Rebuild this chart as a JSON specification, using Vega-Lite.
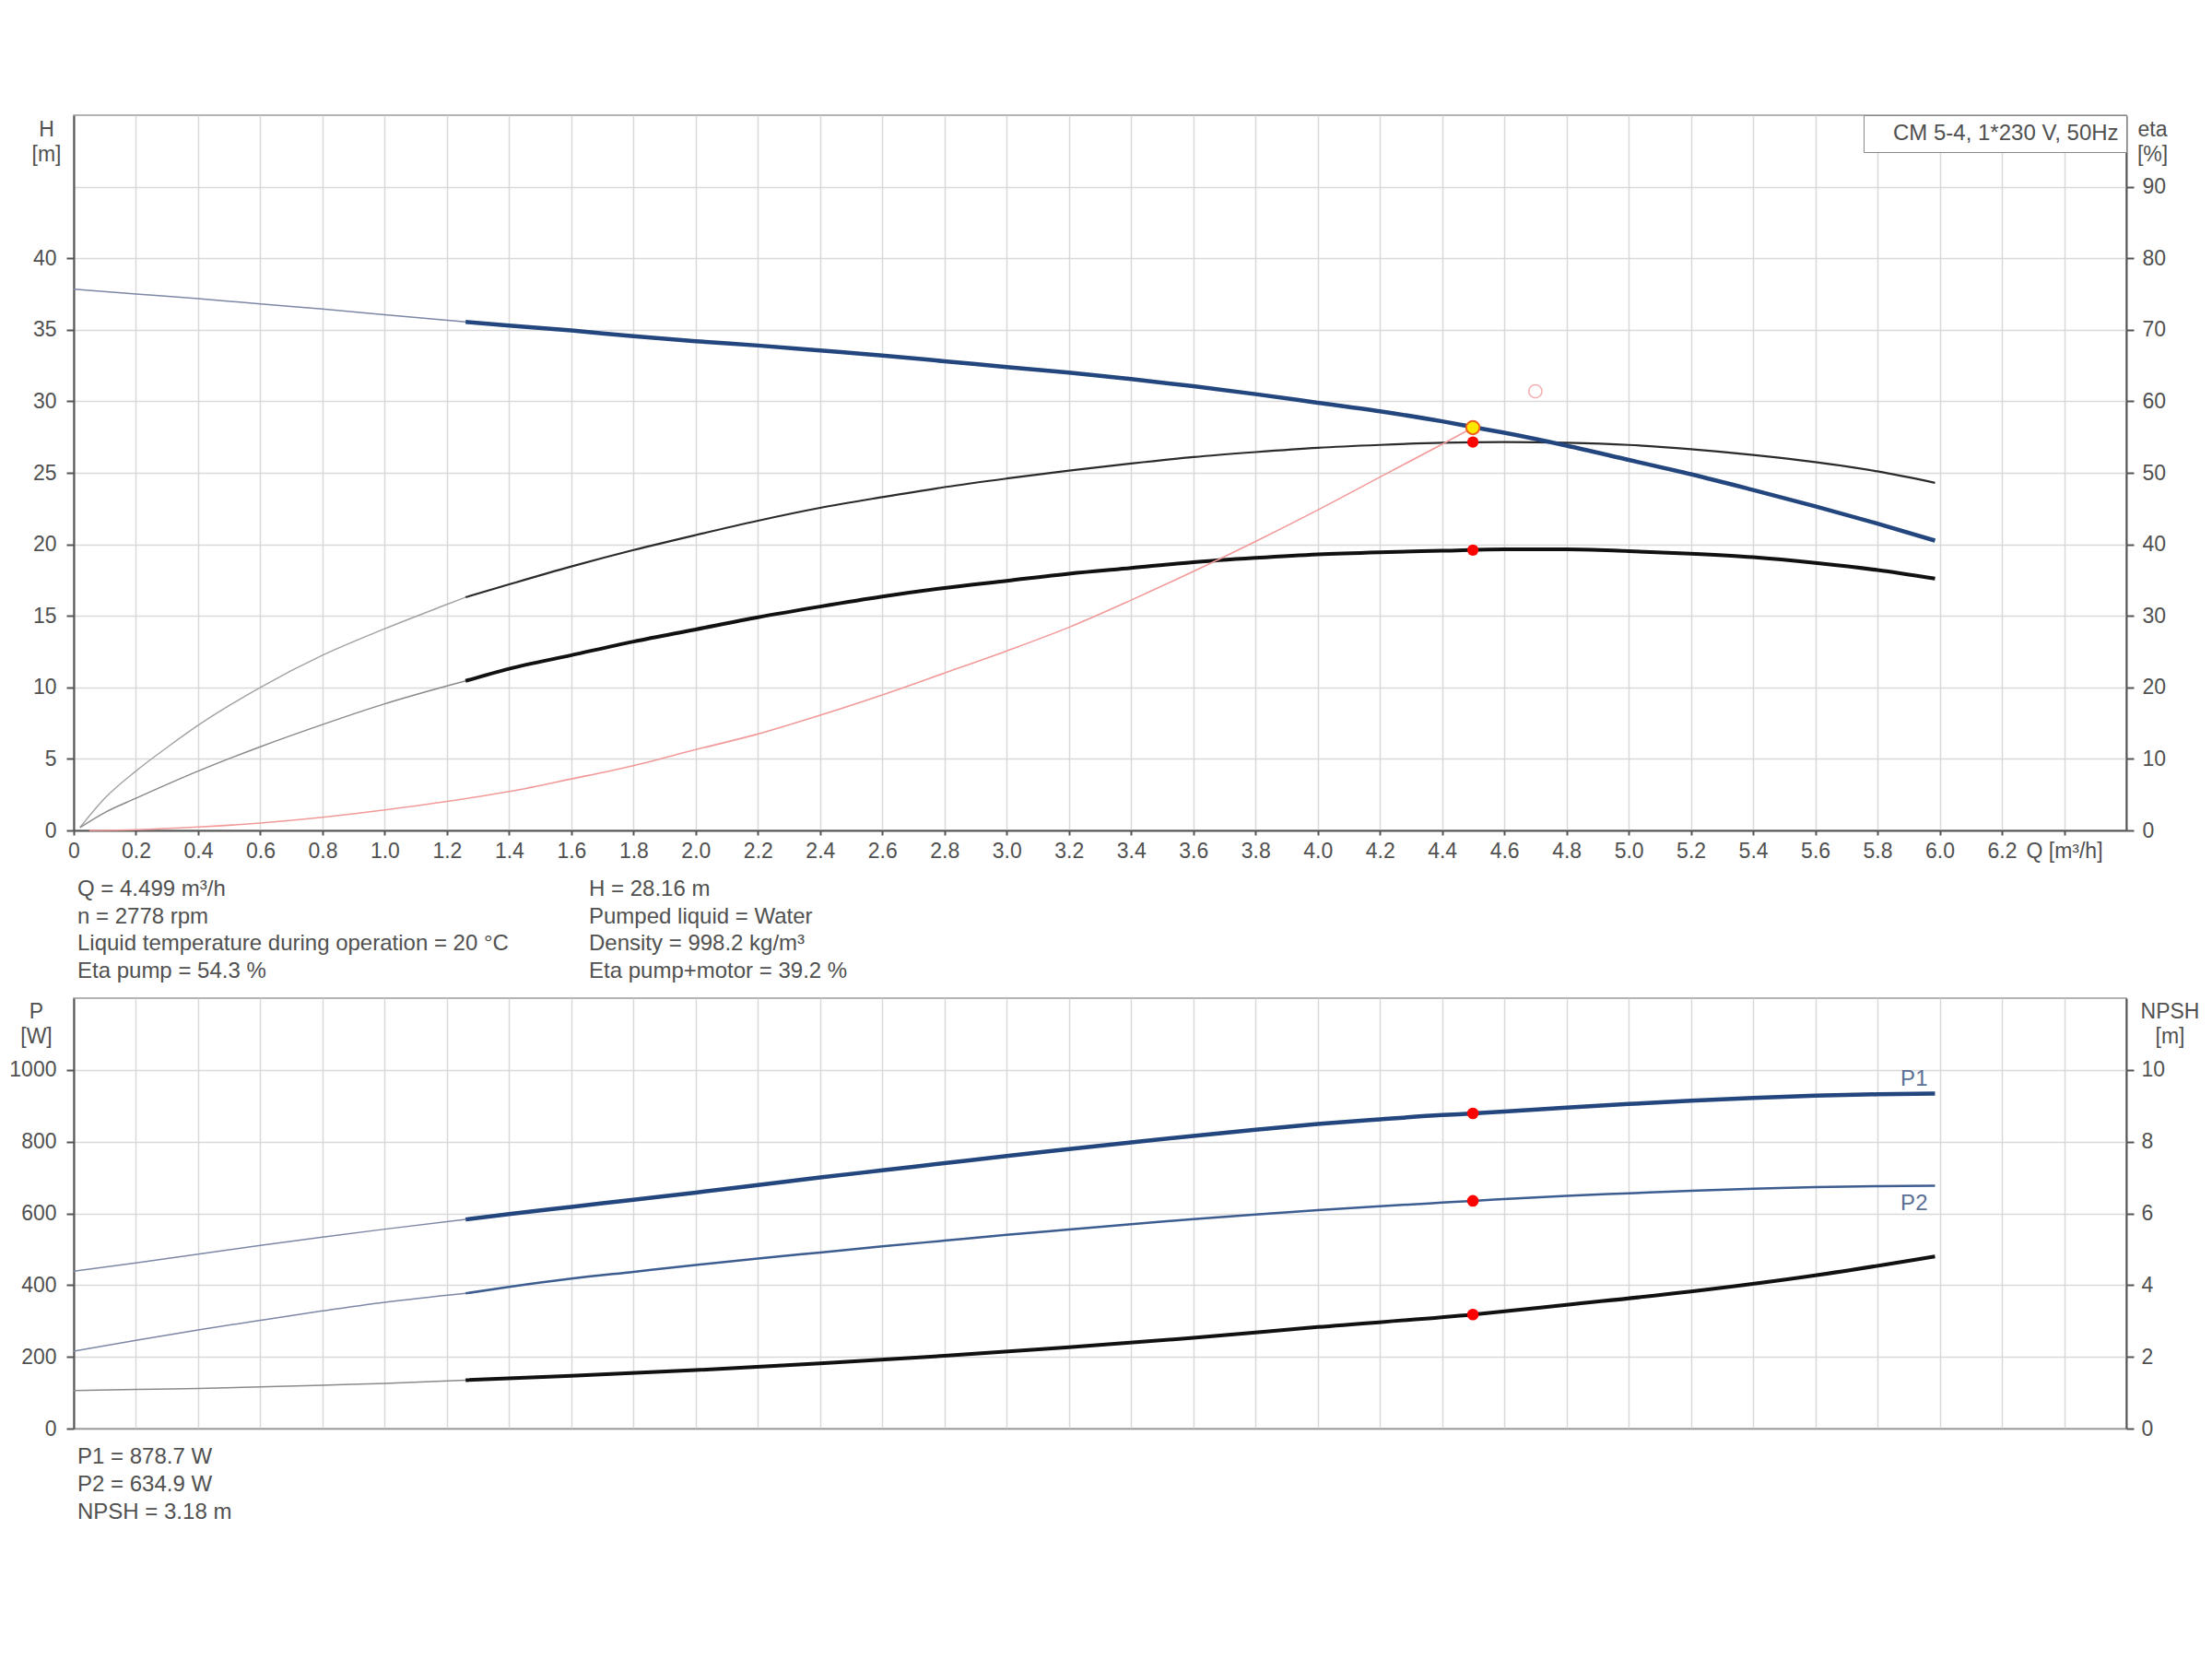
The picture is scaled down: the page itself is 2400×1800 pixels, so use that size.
{
  "$schema": "https://vega.github.io/schema/vega-lite/v6.json",
  "background": "white",
  "padding": {"left": 9, "top": 124, "right": 5, "bottom": 5},
  "config": {
    "font": "Liberation Sans",
    "view": {"stroke": "#9a9a9a", "strokeWidth": 1.5},
    "axis": {
      "labelFont": "Liberation Sans", "labelFontSize": 23, "labelColor": "#505050",
      "labelFlush": false, "labelOverlap": false,
      "domainColor": "#555555", "domainWidth": 2,
      "tickColor": "#555555", "tickWidth": 2,
      "gridColor": "#d9d9d9", "gridWidth": 1.5,
      "titleFont": "Liberation Sans", "titleFontSize": 23, "titleFontWeight": "normal", "titleColor": "#505050"
    }
  },
  "datasets": {
    "eta": [
      {"seg": "etaP_low", "Q": 0.02, "eta": 0.4}, {"seg": "etaP_low", "Q": 0.1, "eta": 4.5}, {"seg": "etaP_low", "Q": 0.2, "eta": 8.3}, {"seg": "etaP_low", "Q": 0.3, "eta": 11.6}, {"seg": "etaP_low", "Q": 0.4, "eta": 14.7}, {"seg": "etaP_low", "Q": 0.6, "eta": 20.0}, {"seg": "etaP_low", "Q": 0.8, "eta": 24.5}, {"seg": "etaP_low", "Q": 1.0, "eta": 28.2}, {"seg": "etaP_low", "Q": 1.2, "eta": 31.6}, {"seg": "etaP_low", "Q": 1.26, "eta": 32.6},
      {"seg": "etaP", "Q": 1.26, "eta": 32.6}, {"seg": "etaP", "Q": 1.4, "eta": 34.4}, {"seg": "etaP", "Q": 1.6, "eta": 36.9}, {"seg": "etaP", "Q": 1.8, "eta": 39.2}, {"seg": "etaP", "Q": 2.0, "eta": 41.3}, {"seg": "etaP", "Q": 2.2, "eta": 43.3}, {"seg": "etaP", "Q": 2.4, "eta": 45.1}, {"seg": "etaP", "Q": 2.6, "eta": 46.6}, {"seg": "etaP", "Q": 2.8, "eta": 48.0}, {"seg": "etaP", "Q": 3.0, "eta": 49.2}, {"seg": "etaP", "Q": 3.2, "eta": 50.3}, {"seg": "etaP", "Q": 3.4, "eta": 51.3}, {"seg": "etaP", "Q": 3.6, "eta": 52.2}, {"seg": "etaP", "Q": 3.8, "eta": 52.9}, {"seg": "etaP", "Q": 4.0, "eta": 53.5}, {"seg": "etaP", "Q": 4.2, "eta": 53.9}, {"seg": "etaP", "Q": 4.4, "eta": 54.2}, {"seg": "etaP", "Q": 4.6, "eta": 54.3}, {"seg": "etaP", "Q": 4.8, "eta": 54.2}, {"seg": "etaP", "Q": 5.0, "eta": 53.9}, {"seg": "etaP", "Q": 5.2, "eta": 53.3}, {"seg": "etaP", "Q": 5.4, "eta": 52.5}, {"seg": "etaP", "Q": 5.6, "eta": 51.5}, {"seg": "etaP", "Q": 5.8, "eta": 50.2}, {"seg": "etaP", "Q": 5.985, "eta": 48.6},
      {"seg": "etaPM_low", "Q": 0.02, "eta": 0.4}, {"seg": "etaPM_low", "Q": 0.1, "eta": 2.5}, {"seg": "etaPM_low", "Q": 0.2, "eta": 4.5}, {"seg": "etaPM_low", "Q": 0.4, "eta": 8.3}, {"seg": "etaPM_low", "Q": 0.6, "eta": 11.7}, {"seg": "etaPM_low", "Q": 0.8, "eta": 14.8}, {"seg": "etaPM_low", "Q": 1.0, "eta": 17.7}, {"seg": "etaPM_low", "Q": 1.2, "eta": 20.2}, {"seg": "etaPM_low", "Q": 1.26, "eta": 20.9},
      {"seg": "etaPM", "Q": 1.26, "eta": 20.9}, {"seg": "etaPM", "Q": 1.4, "eta": 22.6}, {"seg": "etaPM", "Q": 1.6, "eta": 24.5}, {"seg": "etaPM", "Q": 1.8, "eta": 26.4}, {"seg": "etaPM", "Q": 2.0, "eta": 28.1}, {"seg": "etaPM", "Q": 2.2, "eta": 29.8}, {"seg": "etaPM", "Q": 2.4, "eta": 31.3}, {"seg": "etaPM", "Q": 2.6, "eta": 32.7}, {"seg": "etaPM", "Q": 2.8, "eta": 33.9}, {"seg": "etaPM", "Q": 3.0, "eta": 34.9}, {"seg": "etaPM", "Q": 3.2, "eta": 35.9}, {"seg": "etaPM", "Q": 3.4, "eta": 36.7}, {"seg": "etaPM", "Q": 3.6, "eta": 37.5}, {"seg": "etaPM", "Q": 3.8, "eta": 38.1}, {"seg": "etaPM", "Q": 4.0, "eta": 38.6}, {"seg": "etaPM", "Q": 4.2, "eta": 38.9}, {"seg": "etaPM", "Q": 4.4, "eta": 39.1}, {"seg": "etaPM", "Q": 4.6, "eta": 39.3}, {"seg": "etaPM", "Q": 4.8, "eta": 39.3}, {"seg": "etaPM", "Q": 5.0, "eta": 39.05}, {"seg": "etaPM", "Q": 5.2, "eta": 38.7}, {"seg": "etaPM", "Q": 5.4, "eta": 38.2}, {"seg": "etaPM", "Q": 5.6, "eta": 37.4}, {"seg": "etaPM", "Q": 5.8, "eta": 36.4}, {"seg": "etaPM", "Q": 5.985, "eta": 35.2}
    ],
    "etaPts": [{"Q": 4.499, "eta": 54.3}, {"Q": 4.499, "eta": 39.2}],
    "head": [
      {"seg": "system", "Q": 0.05, "H": 0}, {"seg": "system", "Q": 0.2, "H": 0.05}, {"seg": "system", "Q": 0.4, "H": 0.24}, {"seg": "system", "Q": 0.6, "H": 0.52}, {"seg": "system", "Q": 0.8, "H": 0.92}, {"seg": "system", "Q": 1.0, "H": 1.43}, {"seg": "system", "Q": 1.2, "H": 2.03}, {"seg": "system", "Q": 1.4, "H": 2.72}, {"seg": "system", "Q": 1.6, "H": 3.6}, {"seg": "system", "Q": 1.8, "H": 4.53}, {"seg": "system", "Q": 2.0, "H": 5.65}, {"seg": "system", "Q": 2.2, "H": 6.74}, {"seg": "system", "Q": 2.4, "H": 8.05}, {"seg": "system", "Q": 2.6, "H": 9.47}, {"seg": "system", "Q": 2.8, "H": 11.0}, {"seg": "system", "Q": 3.0, "H": 12.55}, {"seg": "system", "Q": 3.2, "H": 14.2}, {"seg": "system", "Q": 3.4, "H": 16.1}, {"seg": "system", "Q": 3.6, "H": 18.1}, {"seg": "system", "Q": 3.8, "H": 20.2}, {"seg": "system", "Q": 4.0, "H": 22.4}, {"seg": "system", "Q": 4.2, "H": 24.7}, {"seg": "system", "Q": 4.4, "H": 27.0}, {"seg": "system", "Q": 4.499, "H": 28.16},
      {"seg": "H_low", "Q": 0, "H": 37.84}, {"seg": "H_low", "Q": 0.2, "H": 37.5}, {"seg": "H_low", "Q": 0.4, "H": 37.18}, {"seg": "H_low", "Q": 0.6, "H": 36.8}, {"seg": "H_low", "Q": 0.8, "H": 36.45}, {"seg": "H_low", "Q": 1.0, "H": 36.05}, {"seg": "H_low", "Q": 1.26, "H": 35.55},
      {"seg": "H", "Q": 1.26, "H": 35.55}, {"seg": "H", "Q": 1.4, "H": 35.3}, {"seg": "H", "Q": 1.6, "H": 34.95}, {"seg": "H", "Q": 1.8, "H": 34.55}, {"seg": "H", "Q": 2.0, "H": 34.2}, {"seg": "H", "Q": 2.2, "H": 33.9}, {"seg": "H", "Q": 2.4, "H": 33.55}, {"seg": "H", "Q": 2.6, "H": 33.2}, {"seg": "H", "Q": 2.8, "H": 32.8}, {"seg": "H", "Q": 3.0, "H": 32.4}, {"seg": "H", "Q": 3.2, "H": 32.0}, {"seg": "H", "Q": 3.4, "H": 31.55}, {"seg": "H", "Q": 3.6, "H": 31.05}, {"seg": "H", "Q": 3.8, "H": 30.5}, {"seg": "H", "Q": 4.0, "H": 29.9}, {"seg": "H", "Q": 4.2, "H": 29.3}, {"seg": "H", "Q": 4.4, "H": 28.6}, {"seg": "H", "Q": 4.5, "H": 28.2}, {"seg": "H", "Q": 4.6, "H": 27.8}, {"seg": "H", "Q": 4.8, "H": 26.9}, {"seg": "H", "Q": 5.0, "H": 25.9}, {"seg": "H", "Q": 5.2, "H": 24.9}, {"seg": "H", "Q": 5.4, "H": 23.8}, {"seg": "H", "Q": 5.6, "H": 22.66}, {"seg": "H", "Q": 5.8, "H": 21.45}, {"seg": "H", "Q": 5.985, "H": 20.26}
    ],
    "duty": [{"Q": 4.499, "H": 28.16, "pump": "CM 5-4, 1*230 V, 50Hz"}],
    "hollow": [{"Q": 4.7, "H": 30.7}],
    "power": [
      {"seg": "P1_low", "Q": 0, "P": 439}, {"seg": "P1_low", "Q": 0.2, "P": 462}, {"seg": "P1_low", "Q": 0.4, "P": 486}, {"seg": "P1_low", "Q": 0.6, "P": 511}, {"seg": "P1_low", "Q": 0.8, "P": 534}, {"seg": "P1_low", "Q": 1.0, "P": 556}, {"seg": "P1_low", "Q": 1.26, "P": 583},
      {"seg": "P1", "Q": 1.26, "P": 583}, {"seg": "P1", "Q": 1.4, "P": 598}, {"seg": "P1", "Q": 1.6, "P": 618}, {"seg": "P1", "Q": 1.8, "P": 638}, {"seg": "P1", "Q": 2.0, "P": 658}, {"seg": "P1", "Q": 2.2, "P": 679}, {"seg": "P1", "Q": 2.4, "P": 700}, {"seg": "P1", "Q": 2.6, "P": 720}, {"seg": "P1", "Q": 2.8, "P": 740}, {"seg": "P1", "Q": 3.0, "P": 760}, {"seg": "P1", "Q": 3.2, "P": 779}, {"seg": "P1", "Q": 3.4, "P": 798}, {"seg": "P1", "Q": 3.6, "P": 816}, {"seg": "P1", "Q": 3.8, "P": 833}, {"seg": "P1", "Q": 4.0, "P": 849}, {"seg": "P1", "Q": 4.2, "P": 862}, {"seg": "P1", "Q": 4.4, "P": 874}, {"seg": "P1", "Q": 4.5, "P": 878.7}, {"seg": "P1", "Q": 4.6, "P": 884}, {"seg": "P1", "Q": 4.8, "P": 895}, {"seg": "P1", "Q": 5.0, "P": 905}, {"seg": "P1", "Q": 5.2, "P": 914}, {"seg": "P1", "Q": 5.4, "P": 922}, {"seg": "P1", "Q": 5.6, "P": 928}, {"seg": "P1", "Q": 5.8, "P": 932}, {"seg": "P1", "Q": 5.985, "P": 934},
      {"seg": "P2_low", "Q": 0, "P": 216}, {"seg": "P2_low", "Q": 0.2, "P": 246}, {"seg": "P2_low", "Q": 0.4, "P": 275}, {"seg": "P2_low", "Q": 0.6, "P": 302}, {"seg": "P2_low", "Q": 0.8, "P": 328}, {"seg": "P2_low", "Q": 1.0, "P": 352}, {"seg": "P2_low", "Q": 1.26, "P": 377},
      {"seg": "P2", "Q": 1.26, "P": 377}, {"seg": "P2", "Q": 1.4, "P": 395}, {"seg": "P2", "Q": 1.6, "P": 418}, {"seg": "P2", "Q": 1.8, "P": 437}, {"seg": "P2", "Q": 2.0, "P": 456}, {"seg": "P2", "Q": 2.2, "P": 474}, {"seg": "P2", "Q": 2.4, "P": 491}, {"seg": "P2", "Q": 2.6, "P": 508}, {"seg": "P2", "Q": 2.8, "P": 524}, {"seg": "P2", "Q": 3.0, "P": 540}, {"seg": "P2", "Q": 3.2, "P": 555}, {"seg": "P2", "Q": 3.4, "P": 570}, {"seg": "P2", "Q": 3.6, "P": 584}, {"seg": "P2", "Q": 3.8, "P": 597}, {"seg": "P2", "Q": 4.0, "P": 609}, {"seg": "P2", "Q": 4.2, "P": 620}, {"seg": "P2", "Q": 4.4, "P": 630}, {"seg": "P2", "Q": 4.5, "P": 634.9}, {"seg": "P2", "Q": 4.8, "P": 649}, {"seg": "P2", "Q": 5.0, "P": 656}, {"seg": "P2", "Q": 5.2, "P": 663}, {"seg": "P2", "Q": 5.4, "P": 669}, {"seg": "P2", "Q": 5.6, "P": 673}, {"seg": "P2", "Q": 5.8, "P": 676}, {"seg": "P2", "Q": 5.985, "P": 677}
    ],
    "pPts": [{"Q": 4.499, "P": 878.7}, {"Q": 4.499, "P": 634.9}],
    "pLabels": [{"Q": 5.985, "P": 934, "label": "P1"}, {"Q": 5.985, "P": 677, "label": "P2"}],
    "npsh": [
      {"seg": "N_low", "Q": 0, "NPSH": 1.06}, {"seg": "N_low", "Q": 0.2, "NPSH": 1.09}, {"seg": "N_low", "Q": 0.4, "NPSH": 1.12}, {"seg": "N_low", "Q": 0.6, "NPSH": 1.16}, {"seg": "N_low", "Q": 0.8, "NPSH": 1.21}, {"seg": "N_low", "Q": 1.0, "NPSH": 1.26}, {"seg": "N_low", "Q": 1.26, "NPSH": 1.35},
      {"seg": "N", "Q": 1.26, "NPSH": 1.35}, {"seg": "N", "Q": 1.6, "NPSH": 1.47}, {"seg": "N", "Q": 2.0, "NPSH": 1.63}, {"seg": "N", "Q": 2.4, "NPSH": 1.82}, {"seg": "N", "Q": 2.8, "NPSH": 2.03}, {"seg": "N", "Q": 3.2, "NPSH": 2.27}, {"seg": "N", "Q": 3.6, "NPSH": 2.53}, {"seg": "N", "Q": 4.0, "NPSH": 2.83}, {"seg": "N", "Q": 4.5, "NPSH": 3.18}, {"seg": "N", "Q": 4.8, "NPSH": 3.45}, {"seg": "N", "Q": 5.2, "NPSH": 3.82}, {"seg": "N", "Q": 5.6, "NPSH": 4.27}, {"seg": "N", "Q": 5.985, "NPSH": 4.8}
    ],
    "nPts": [{"Q": 4.499, "NPSH": 3.18}],
    "info1": [
      {"col": 0, "line": 1, "text": "Q = 4.499 m³/h"},
      {"col": 0, "line": 2, "text": "n = 2778 rpm"},
      {"col": 0, "line": 3, "text": "Liquid temperature during operation = 20 °C"},
      {"col": 0, "line": 4, "text": "Eta pump = 54.3 %"},
      {"col": 1, "line": 1, "text": "H = 28.16 m"},
      {"col": 1, "line": 2, "text": "Pumped liquid = Water"},
      {"col": 1, "line": 3, "text": "Density = 998.2 kg/m³"},
      {"col": 1, "line": 4, "text": "Eta pump+motor = 39.2 %"}
    ],
    "info2": [
      {"col": 0, "line": 1, "text": "P1 = 878.7 W"},
      {"col": 0, "line": 2, "text": "P2 = 634.9 W"},
      {"col": 0, "line": 3, "text": "NPSH = 3.18 m"}
    ]
  },
  "spacing": 0,
  "bounds": "flush",
  "vconcat": [
    {
      "width": 2227,
      "height": 776,
      "resolve": {"scale": {"y": "independent"}},
      "layer": [
        {
          "data": {"name": "eta"},
          "transform": [{"filter": "datum.seg == 'etaP_low'"}],
          "mark": {"type": "line", "interpolate": "monotone", "color": "#a3a3a3", "strokeWidth": 1.5},
          "encoding": {
            "x": {"field": "Q", "type": "quantitative", "scale": {"domain": [0, 6.6], "nice": false, "zero": false},
              "axis": {"values": [0, 0.2, 0.4, 0.6, 0.8, 1, 1.2, 1.4, 1.6, 1.8, 2, 2.2, 2.4, 2.6, 2.8, 3, 3.2, 3.4, 3.6, 3.8, 4, 4.2, 4.4, 4.6, 4.8, 5, 5.2, 5.4, 5.6, 5.8, 6, 6.2, 6.4],
                "grid": true, "ticks": true, "tickSize": 5, "labels": true, "labelPadding": 6, "title": null,
                "labelExpr": "datum.value == 0 ? '0' : (datum.value == 6.4 ? 'Q [m³/h]' : format(datum.value, '.1f'))"}},
            "y": {"field": "eta", "type": "quantitative", "scale": {"domain": [0, 100], "nice": false},
              "axis": {"orient": "right", "values": [0, 10, 20, 30, 40, 50, 60, 70, 80, 90], "grid": true, "tickSize": 8, "labelPadding": 9,
                "title": ["eta", "[%]"], "titleAngle": 0, "titleAlign": "center", "titleBaseline": "alphabetic", "titleX": 28, "titleY": 22, "titleLineHeight": 27}}
          }
        },
        {
          "data": {"name": "eta"},
          "transform": [{"filter": "datum.seg == 'etaPM_low'"}],
          "mark": {"type": "line", "interpolate": "monotone", "color": "#8a8a8a", "strokeWidth": 1.5},
          "encoding": {
            "x": {"field": "Q", "type": "quantitative", "scale": {"domain": [0, 6.6], "nice": false, "zero": false}},
            "y": {"field": "eta", "type": "quantitative", "scale": {"domain": [0, 100], "nice": false}, "axis": null}
          }
        },
        {
          "data": {"name": "eta"},
          "transform": [{"filter": "datum.seg == 'etaP'"}],
          "mark": {"type": "line", "interpolate": "monotone", "color": "#2b2b2b", "strokeWidth": 2.2},
          "encoding": {
            "x": {"field": "Q", "type": "quantitative", "scale": {"domain": [0, 6.6], "nice": false, "zero": false}},
            "y": {"field": "eta", "type": "quantitative", "scale": {"domain": [0, 100], "nice": false}, "axis": null}
          }
        },
        {
          "data": {"name": "eta"},
          "transform": [{"filter": "datum.seg == 'etaPM'"}],
          "mark": {"type": "line", "interpolate": "monotone", "color": "#111111", "strokeWidth": 4},
          "encoding": {
            "x": {"field": "Q", "type": "quantitative", "scale": {"domain": [0, 6.6], "nice": false, "zero": false}},
            "y": {"field": "eta", "type": "quantitative", "scale": {"domain": [0, 100], "nice": false}, "axis": null}
          }
        },
        {
          "data": {"name": "head"},
          "transform": [{"filter": "datum.seg == 'system'"}],
          "mark": {"type": "line", "interpolate": "monotone", "color": "#f29a9a", "strokeWidth": 1.6},
          "encoding": {
            "x": {"field": "Q", "type": "quantitative", "scale": {"domain": [0, 6.6], "nice": false, "zero": false}},
            "y": {"field": "H", "type": "quantitative", "scale": {"domain": [0, 50], "nice": false},
              "axis": {"orient": "left", "values": [0, 5, 10, 15, 20, 25, 30, 35, 40], "grid": false, "tickSize": 8, "labelPadding": 11,
                "title": ["H", "[m]"], "titleAngle": 0, "titleAlign": "center", "titleBaseline": "alphabetic", "titleX": -30, "titleY": 22, "titleLineHeight": 27}}
          }
        },
        {
          "data": {"name": "head"},
          "transform": [{"filter": "datum.seg == 'H_low'"}],
          "mark": {"type": "line", "interpolate": "monotone", "color": "#7d88a6", "strokeWidth": 1.5},
          "encoding": {
            "x": {"field": "Q", "type": "quantitative", "scale": {"domain": [0, 6.6], "nice": false, "zero": false}},
            "y": {"field": "H", "type": "quantitative", "scale": {"domain": [0, 50], "nice": false}, "axis": null}
          }
        },
        {
          "data": {"name": "head"},
          "transform": [{"filter": "datum.seg == 'H'"}],
          "mark": {"type": "line", "interpolate": "monotone", "color": "#23467e", "strokeWidth": 4.5},
          "encoding": {
            "x": {"field": "Q", "type": "quantitative", "scale": {"domain": [0, 6.6], "nice": false, "zero": false}},
            "y": {"field": "H", "type": "quantitative", "scale": {"domain": [0, 50], "nice": false}, "axis": null}
          }
        },
        {
          "data": {"name": "etaPts"},
          "mark": {"type": "circle", "color": "#ff0000", "size": 150, "opacity": 1},
          "encoding": {
            "x": {"field": "Q", "type": "quantitative", "scale": {"domain": [0, 6.6], "nice": false, "zero": false}},
            "y": {"field": "eta", "type": "quantitative", "scale": {"domain": [0, 100], "nice": false}, "axis": null}
          }
        },
        {
          "data": {"name": "hollow"},
          "mark": {"type": "point", "filled": false, "stroke": "#f09090", "strokeWidth": 1.6, "size": 200, "shape": "circle"},
          "encoding": {
            "x": {"field": "Q", "type": "quantitative", "scale": {"domain": [0, 6.6], "nice": false, "zero": false}},
            "y": {"field": "H", "type": "quantitative", "scale": {"domain": [0, 50], "nice": false}, "axis": null}
          }
        },
        {
          "data": {"name": "duty"},
          "mark": {"type": "point", "filled": true, "fill": "#ffe800", "stroke": "#f0601a", "strokeWidth": 2, "size": 210, "opacity": 1},
          "encoding": {
            "x": {"field": "Q", "type": "quantitative", "scale": {"domain": [0, 6.6], "nice": false, "zero": false}},
            "y": {"field": "H", "type": "quantitative", "scale": {"domain": [0, 50], "nice": false}, "axis": null},
            "shape": {"field": "pump", "type": "nominal", "scale": {"range": ["circle"]},
              "legend": {"title": null, "orient": "top-right", "offset": 0, "padding": 8, "strokeColor": "#888888", "fillColor": "#ffffff",
                "symbolSize": 0, "symbolOpacity": 0, "symbolStrokeWidth": 0, "labelOffset": 0,
                "labelFontSize": 24, "labelColor": "#505050", "labelFont": "Liberation Sans", "labelLimit": 600}}
          }
        }
      ]
    },
    {
      "width": 2227,
      "height": 182,
      "view": {"stroke": null},
      "data": {"name": "info1"},
      "mark": {"type": "text", "align": "left", "baseline": "middle", "fontSize": 24, "color": "#505050", "font": "Liberation Sans"},
      "encoding": {
        "x": {"field": "col", "type": "quantitative", "scale": {"domain": [-0.0072, 4.0054], "nice": false, "zero": false}, "axis": null},
        "y": {"field": "line", "type": "quantitative", "scale": {"domain": [-1.157, 4.977], "reverse": true, "nice": false, "zero": false}, "axis": null},
        "text": {"field": "text", "type": "nominal"}
      }
    },
    {
      "width": 2227,
      "height": 467,
      "resolve": {"scale": {"y": "independent"}},
      "layer": [
        {
          "data": {"name": "power"},
          "transform": [{"filter": "datum.seg == 'P1_low'"}],
          "mark": {"type": "line", "interpolate": "monotone", "color": "#7d88a6", "strokeWidth": 1.5},
          "encoding": {
            "x": {"field": "Q", "type": "quantitative", "scale": {"domain": [0, 6.6], "nice": false, "zero": false},
              "axis": {"values": [0, 0.2, 0.4, 0.6, 0.8, 1, 1.2, 1.4, 1.6, 1.8, 2, 2.2, 2.4, 2.6, 2.8, 3, 3.2, 3.4, 3.6, 3.8, 4, 4.2, 4.4, 4.6, 4.8, 5, 5.2, 5.4, 5.6, 5.8, 6, 6.2, 6.4],
                "grid": true, "ticks": false, "labels": false, "title": null, "domainColor": "#9a9a9a", "domainWidth": 1.5}},
            "y": {"field": "P", "type": "quantitative", "scale": {"domain": [0, 1200], "nice": false},
              "axis": {"orient": "left", "values": [0, 200, 400, 600, 800, 1000], "format": "d", "grid": true, "tickSize": 8, "labelPadding": 11,
                "title": ["P", "[W]"], "titleAngle": 0, "titleAlign": "center", "titleBaseline": "alphabetic", "titleX": -41, "titleY": 21, "titleLineHeight": 27}}
          }
        },
        {
          "data": {"name": "power"},
          "transform": [{"filter": "datum.seg == 'P2_low'"}],
          "mark": {"type": "line", "interpolate": "monotone", "color": "#7d88a6", "strokeWidth": 1.5},
          "encoding": {
            "x": {"field": "Q", "type": "quantitative", "scale": {"domain": [0, 6.6], "nice": false, "zero": false}},
            "y": {"field": "P", "type": "quantitative", "scale": {"domain": [0, 1200], "nice": false}, "axis": null}
          }
        },
        {
          "data": {"name": "power"},
          "transform": [{"filter": "datum.seg == 'P1'"}],
          "mark": {"type": "line", "interpolate": "monotone", "color": "#23467e", "strokeWidth": 4.5},
          "encoding": {
            "x": {"field": "Q", "type": "quantitative", "scale": {"domain": [0, 6.6], "nice": false, "zero": false}},
            "y": {"field": "P", "type": "quantitative", "scale": {"domain": [0, 1200], "nice": false}, "axis": null}
          }
        },
        {
          "data": {"name": "power"},
          "transform": [{"filter": "datum.seg == 'P2'"}],
          "mark": {"type": "line", "interpolate": "monotone", "color": "#3d5c90", "strokeWidth": 2.5},
          "encoding": {
            "x": {"field": "Q", "type": "quantitative", "scale": {"domain": [0, 6.6], "nice": false, "zero": false}},
            "y": {"field": "P", "type": "quantitative", "scale": {"domain": [0, 1200], "nice": false}, "axis": null}
          }
        },
        {
          "data": {"name": "npsh"},
          "transform": [{"filter": "datum.seg == 'N_low'"}],
          "mark": {"type": "line", "interpolate": "monotone", "color": "#8a8a8a", "strokeWidth": 1.5},
          "encoding": {
            "x": {"field": "Q", "type": "quantitative", "scale": {"domain": [0, 6.6], "nice": false, "zero": false}},
            "y": {"field": "NPSH", "type": "quantitative", "scale": {"domain": [0, 12], "nice": false},
              "axis": {"orient": "right", "values": [0, 2, 4, 6, 8, 10], "grid": false, "tickSize": 8, "labelPadding": 8,
                "title": ["NPSH", "[m]"], "titleAngle": 0, "titleAlign": "center", "titleBaseline": "alphabetic", "titleX": 47, "titleY": 21, "titleLineHeight": 27}}
          }
        },
        {
          "data": {"name": "npsh"},
          "transform": [{"filter": "datum.seg == 'N'"}],
          "mark": {"type": "line", "interpolate": "monotone", "color": "#111111", "strokeWidth": 4},
          "encoding": {
            "x": {"field": "Q", "type": "quantitative", "scale": {"domain": [0, 6.6], "nice": false, "zero": false}},
            "y": {"field": "NPSH", "type": "quantitative", "scale": {"domain": [0, 12], "nice": false}, "axis": null}
          }
        },
        {
          "data": {"name": "pPts"},
          "mark": {"type": "circle", "color": "#ff0000", "size": 160, "opacity": 1},
          "encoding": {
            "x": {"field": "Q", "type": "quantitative", "scale": {"domain": [0, 6.6], "nice": false, "zero": false}},
            "y": {"field": "P", "type": "quantitative", "scale": {"domain": [0, 1200], "nice": false}, "axis": null}
          }
        },
        {
          "data": {"name": "nPts"},
          "mark": {"type": "circle", "color": "#ff0000", "size": 160, "opacity": 1},
          "encoding": {
            "x": {"field": "Q", "type": "quantitative", "scale": {"domain": [0, 6.6], "nice": false, "zero": false}},
            "y": {"field": "NPSH", "type": "quantitative", "scale": {"domain": [0, 12], "nice": false}, "axis": null}
          }
        },
        {
          "data": {"name": "pLabels"},
          "transform": [{"filter": "datum.label == 'P1'"}],
          "mark": {"type": "text", "align": "right", "baseline": "alphabetic", "dx": -8, "dy": -9, "fontSize": 24, "color": "#5b6f95", "font": "Liberation Sans"},
          "encoding": {
            "x": {"field": "Q", "type": "quantitative", "scale": {"domain": [0, 6.6], "nice": false, "zero": false}},
            "y": {"field": "P", "type": "quantitative", "scale": {"domain": [0, 1200], "nice": false}, "axis": null},
            "text": {"field": "label", "type": "nominal"}
          }
        },
        {
          "data": {"name": "pLabels"},
          "transform": [{"filter": "datum.label == 'P2'"}],
          "mark": {"type": "text", "align": "right", "baseline": "alphabetic", "dx": -8, "dy": 26, "fontSize": 24, "color": "#5b6f95", "font": "Liberation Sans"},
          "encoding": {
            "x": {"field": "Q", "type": "quantitative", "scale": {"domain": [0, 6.6], "nice": false, "zero": false}},
            "y": {"field": "P", "type": "quantitative", "scale": {"domain": [0, 1200], "nice": false}, "axis": null},
            "text": {"field": "label", "type": "nominal"}
          }
        }
      ]
    },
    {
      "width": 2227,
      "height": 120,
      "view": {"stroke": null},
      "data": {"name": "info2"},
      "mark": {"type": "text", "align": "left", "baseline": "middle", "fontSize": 24, "color": "#505050", "font": "Liberation Sans"},
      "encoding": {
        "x": {"field": "col", "type": "quantitative", "scale": {"domain": [-0.0072, 4.0054], "nice": false, "zero": false}, "axis": null},
        "y": {"field": "line", "type": "quantitative", "scale": {"domain": [-0.0333, 3.9667], "reverse": true, "nice": false, "zero": false}, "axis": null},
        "text": {"field": "text", "type": "nominal"}
      }
    }
  ]
}
